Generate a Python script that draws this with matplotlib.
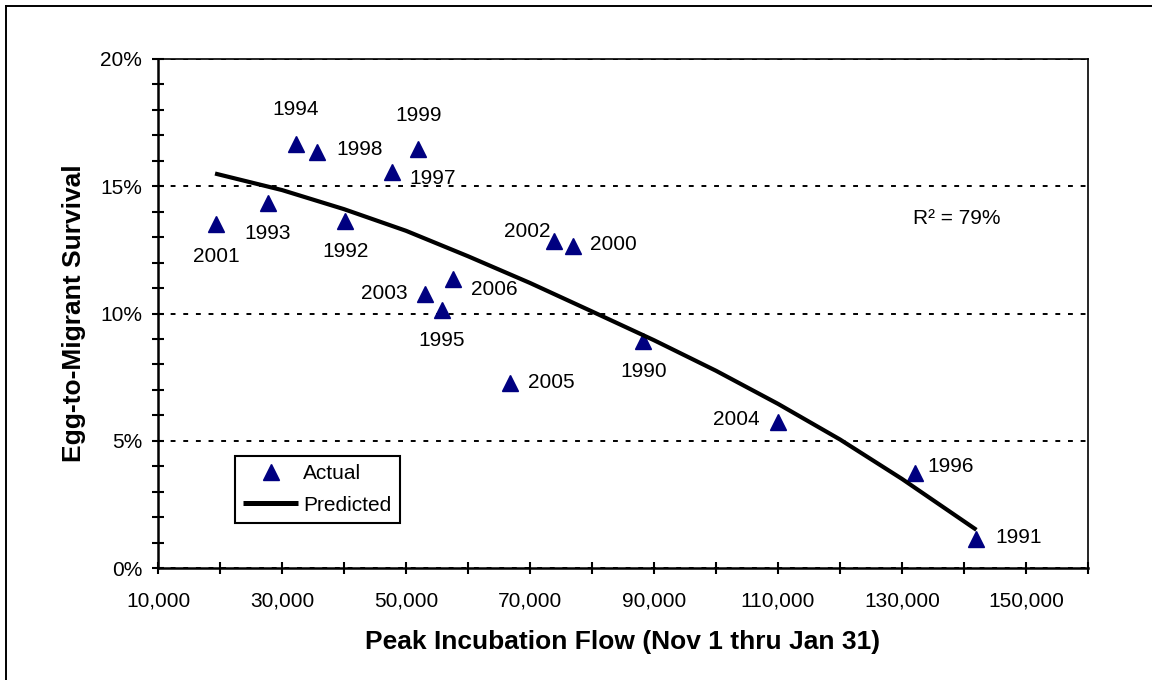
"""
Egg-to-migrant survival vs peak incubation flow (Nov 1 - Jan 31)
"""

import matplotlib
matplotlib.use('Agg')
import matplotlib.pyplot as plt
from matplotlib.lines import Line2D
from matplotlib.ticker import FuncFormatter, MultipleLocator

plt.rcParams['font.family'] = ['Liberation Sans', 'DejaVu Sans']

# observed values (brood year, peak flow, survival %)
years = ['2001', '1993', '1994', '1998', '1992', '1997', '1999', '2003', '2006',
         '1995', '2005', '2002', '2000', '1990', '2004', '1996', '1991']
flow = [19400, 27700, 32200, 35700, 40200, 47700, 52000, 53100, 57500,
        55800, 66800, 73800, 76900, 88300, 110000, 132100, 142000]
survival = [13.5, 14.35, 16.65, 16.35, 13.65, 15.55, 16.45, 10.75, 11.35,
            10.15, 7.25, 12.85, 12.65, 8.9, 5.75, 3.75, 1.15]

# predicted curve
pred_flow = [19200, 30000, 40000, 50000, 60000, 70000, 80000, 90000,
             100000, 110000, 120000, 130000, 142000]
pred_surv = [15.5, 14.85, 14.1, 13.25, 12.25, 11.2, 10.08, 8.95,
             7.75, 6.45, 5.05, 3.5, 1.5]

r2_text = 'R\u00b2 = 79%'

# label placement (offset in pixels, horizontal alignment)
label_pos = {
    '2001': (0, -32, 'center'), '1993': (0, -31, 'center'),
    '1994': (0, 35, 'center'), '1998': (19, 2, 'left'),
    '1992': (0, -31, 'center'), '1997': (18, -6, 'left'),
    '1999': (0, 34, 'center'), '2003': (-18, 1, 'right'),
    '2006': (19, -10, 'left'), '1995': (0, -31, 'center'),
    '2005': (18, 1, 'left'), '2002': (-3, 9, 'right'),
    '2000': (17, 2, 'left'), '1990': (0, -30, 'center'),
    '2004': (-18, 2, 'right'), '1996': (12, 6, 'left'),
    '1991': (19, 1, 'left'),
}

fig = plt.figure(figsize=(11.52, 6.8), dpi=100)
ax = fig.add_axes([158 / 1152, 1 - 568 / 680, 930 / 1152, 509 / 680])

# grid lines
ax.grid(axis='y', which='major', color='black', linestyle=(0, (2.5, 4.0)),
        linewidth=1.4)
ax.set_axisbelow(True)

ax.plot(flow, survival, linestyle='none', marker='^', ms=12,
        color='#000080', mec='#000080', label='Actual', zorder=3)
ax.plot(pred_flow, pred_surv, color='black', lw=3.0, label='Predicted',
        solid_capstyle='butt', solid_joinstyle='round', zorder=4)

for yr, x, y in zip(years, flow, survival):
    dx, dy, ha = label_pos[yr]
    ax.annotate(yr, (x, y), xytext=(dx, dy), textcoords='offset pixels',
                ha=ha, va='center', fontsize=15, zorder=5)

ax.text(0.812, 0.686, r2_text, transform=ax.transAxes, ha='left',
        va='center', fontsize=15)

# axes
ax.set_xlim(10000, 160000)
ax.set_ylim(0, 20)
ax.set_xticks(range(10000, 160001, 20000))
ax.set_xticks(range(20000, 160001, 20000), minor=True)
ax.xaxis.set_major_formatter(FuncFormatter(lambda v, _: f'{v:,.0f}'))
ax.yaxis.set_major_locator(MultipleLocator(5))
ax.yaxis.set_minor_locator(MultipleLocator(1))
ax.yaxis.set_major_formatter(FuncFormatter(lambda v, _: f'{v:.0f}%'))

ax.tick_params(which='both', direction='inout', length=8, width=1.5,
               labelsize=15, top=False, right=False)
ax.tick_params(axis='x', which='major', pad=12.9)
ax.tick_params(axis='y', which='major', pad=7.5)

for side in ['left', 'bottom']:
    ax.spines[side].set_linewidth(1.8)
for side in ['top', 'right']:
    ax.spines[side].set_linewidth(1.2)

ax.set_xlabel('Peak Incubation Flow (Nov 1 thru Jan 31)', fontsize=19,
              fontweight='bold', labelpad=14.4)
ax.set_ylabel('Egg-to-Migrant Survival', fontsize=19, fontweight='bold',
              labelpad=10.4)

leg = ax.legend(loc='lower left', bbox_to_anchor=(0.0828, 0.0884),
                borderaxespad=0, fontsize=15, handlelength=2.64,
                handletextpad=0.24, borderpad=0.4, labelspacing=0.6,
                fancybox=False, framealpha=1, edgecolor='black')
leg.get_frame().set_linewidth(1.5)
leg.legend_handles[1].set_linewidth(3.6)

# outer chart frame (cropped on right and bottom)
fig.add_artist(Line2D([6 / 1152, 6 / 1152], [0, 1 - 6 / 680],
                      transform=fig.transFigure, color='black', lw=1.4))
fig.add_artist(Line2D([6 / 1152, 1], [1 - 6 / 680, 1 - 6 / 680],
                      transform=fig.transFigure, color='black', lw=1.4))

fig.savefig('out.png', dpi=100)
plt.close(fig)
